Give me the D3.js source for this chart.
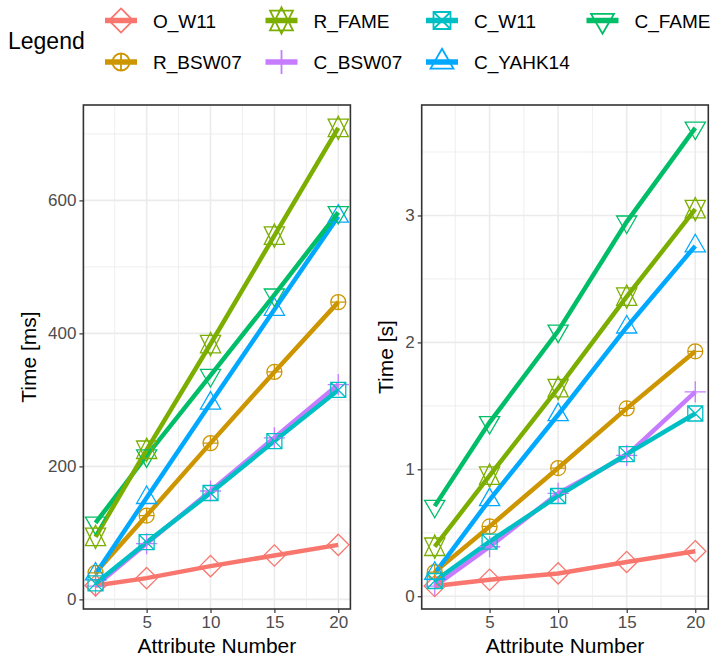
<!DOCTYPE html>
<html>
<head>
<meta charset="utf-8">
<script src="https://cdn.jsdelivr.net/npm/d3@7"></script>
<style>
  body { margin: 0; background: #fff; }
  text { font-family: "Liberation Sans", Arial, Helvetica, sans-serif; }
</style>
</head>
<body>
<svg id="svg" width="724" height="659"></svg>
<script>
// x values (number of attributes)
var attributes = [1, 5, 10, 15, 20];

// legend order
var seriesNames = ["O_W11", "R_BSW07", "R_FAME", "C_BSW07", "C_W11", "C_YAHK14", "C_FAME"];
var seriesColors = ["#F8766D", "#CD9600", "#7CAE00", "#C77CFF", "#00BFC4", "#00A9FF", "#00BE67"];
var seriesShapes = ["diamond", "circlePlus", "star", "plus", "squareCross", "triangleUp", "triangleDown"];
// order the lines are painted in
var lineOrder = ["C_BSW07", "O_W11", "R_BSW07", "C_YAHK14", "C_FAME", "R_FAME", "C_W11"];

// left panel, time in ms
var ms_O_W11    = [21, 32, 50, 66, 82];
var ms_R_BSW07  = [40, 126, 235, 342, 447];
var ms_R_FAME   = [94, 225, 384, 547, 709];
var ms_C_BSW07  = [20, 84, 163, 243, 323];
var ms_C_W11    = [24, 86, 160, 238, 315];
var ms_C_YAHK14 = [38, 153, 295, 436, 576];
var ms_C_FAME   = [115, 216, 337, 458, 582];

// right panel, time in s
var s_O_W11    = [0.08, 0.13, 0.18, 0.27, 0.355];
var s_R_BSW07  = [0.19, 0.55, 1.01, 1.48, 1.93];
var s_R_FAME   = [0.39, 0.95, 1.64, 2.36, 3.05];
var s_C_BSW07  = [0.08, 0.39, 0.81, 1.11, 1.61];
var s_C_W11    = [0.12, 0.43, 0.79, 1.12, 1.44];
var s_C_YAHK14 = [0.18, 0.76, 1.43, 2.12, 2.76];
var s_C_FAME   = [0.71, 1.37, 2.09, 2.95, 3.69];

var xTicks = [5, 10, 15, 20];
var xMinor = [2.5, 7.5, 12.5, 17.5];
var msTicks = [0, 200, 400, 600];
var msMinor = [100, 300, 500, 700];
var sTicks = [0, 1, 2, 3];
var sMinor = [0.5, 1.5, 2.5, 3.5];

var xTitle = "Attribute Number";
var legendTitle = "Legend";

var svg = d3.select("#svg");

function makeSeries(values){
    return seriesNames.map(function(name, i){
        return {
            name: name,
            color: seriesColors[i],
            shape: seriesShapes[i],
            points: attributes.map(function(a, j){ return {x: a, y: values[i][j]}; })
        };
    });
}

var msSeries = makeSeries([ms_O_W11, ms_R_BSW07, ms_R_FAME, ms_C_BSW07, ms_C_W11, ms_C_YAHK14, ms_C_FAME]);
var sSeries = makeSeries([s_O_W11, s_R_BSW07, s_R_FAME, s_C_BSW07, s_C_W11, s_C_YAHK14, s_C_FAME]);

// R style point shapes, r is the base radius in px
function shapePath(shape, r){
    var p = d3.path();
    var a, b, c;
    switch (shape) {
      case "diamond":
        a = Math.SQRT2 * r;
        p.moveTo(0, -a); p.lineTo(a, 0); p.lineTo(0, a); p.lineTo(-a, 0); p.closePath();
        break;
      case "circlePlus":
        p.moveTo(r, 0); p.arc(0, 0, r, 0, 2 * Math.PI);
        p.moveTo(-r, 0); p.lineTo(r, 0);
        p.moveTo(0, -r); p.lineTo(0, r);
        break;
      case "star":
        a = 1.5551 * r; b = 1.1664 * r; c = 1.3468 * r;
        p.moveTo(0, a); p.lineTo(c, -b); p.lineTo(-c, -b); p.closePath();
        p.moveTo(0, -a); p.lineTo(c, b); p.lineTo(-c, b); p.closePath();
        break;
      case "plus":
        a = Math.SQRT2 * r;
        p.moveTo(-a, 0); p.lineTo(a, 0);
        p.moveTo(0, -a); p.lineTo(0, a);
        break;
      case "squareCross":
        p.rect(-r, -r, 2 * r, 2 * r);
        p.moveTo(-r, -r); p.lineTo(r, r);
        p.moveTo(-r, r); p.lineTo(r, -r);
        break;
      case "triangleUp":
        a = 1.5551 * r; b = 0.7776 * r; c = 1.3468 * r;
        p.moveTo(0, -a); p.lineTo(c, b); p.lineTo(-c, b); p.closePath();
        break;
      case "triangleDown":
        a = 1.5551 * r; b = 0.7776 * r; c = 1.3468 * r;
        p.moveTo(0, a); p.lineTo(c, -b); p.lineTo(-c, -b); p.closePath();
        break;
    }
    return p.toString();
}

function expand(ext){
    var pad = (ext[1] - ext[0]) * 0.05;
    return [ext[0] - pad, ext[1] + pad];
}

function drawPanel(series, left, right, yTicks, yMinor, yTitle, yTitleX){
    var top = 105, bottom = 609;
    var allY = [];
    series.forEach(function(s){ s.points.forEach(function(p){ allY.push(p.y); }); });

    var x = d3.scaleLinear().domain(expand(d3.extent(attributes))).range([left, right]);
    var y = d3.scaleLinear().domain(expand(d3.extent(allY))).range([bottom, top]);

    var g = svg.append("g");

    g.append("rect")
        .attr("x", left).attr("y", top)
        .attr("width", right - left).attr("height", bottom - top)
        .attr("fill", "#fff");

    // minor grid
    g.selectAll(".xminor").data(xMinor).enter().append("line")
        .attr("x1", function(d){ return x(d); }).attr("x2", function(d){ return x(d); })
        .attr("y1", top).attr("y2", bottom)
        .attr("stroke", "#EBEBEB").attr("stroke-width", 0.8);
    g.selectAll(".yminor").data(yMinor).enter().append("line")
        .attr("y1", function(d){ return y(d); }).attr("y2", function(d){ return y(d); })
        .attr("x1", left).attr("x2", right)
        .attr("stroke", "#EBEBEB").attr("stroke-width", 0.8);
    // major grid
    g.selectAll(".xmajor").data(xTicks).enter().append("line")
        .attr("x1", function(d){ return x(d); }).attr("x2", function(d){ return x(d); })
        .attr("y1", top).attr("y2", bottom)
        .attr("stroke", "#EBEBEB").attr("stroke-width", 1.6);
    g.selectAll(".ymajor").data(yTicks).enter().append("line")
        .attr("y1", function(d){ return y(d); }).attr("y2", function(d){ return y(d); })
        .attr("x1", left).attr("x2", right)
        .attr("stroke", "#EBEBEB").attr("stroke-width", 1.6);

    var line = d3.line()
        .x(function(d){ return x(d.x); })
        .y(function(d){ return y(d.y); });

    var byName = {};
    series.forEach(function(s){ byName[s.name] = s; });

    lineOrder.forEach(function(name){
        var s = byName[name];
        g.append("path").datum(s.points)
            .attr("fill", "none")
            .attr("stroke", s.color)
            .attr("stroke-width", 4.5)
            .attr("stroke-linecap", "butt")
            .attr("d", line);
    });

    lineOrder.forEach(function(name){
        var s = byName[name];
        g.selectAll(null).data(s.points).enter().append("path")
            .attr("transform", function(d){ return "translate(" + x(d.x) + "," + y(d.y) + ")"; })
            .attr("d", shapePath(s.shape, 7.5))
            .attr("fill", "none")
            .attr("stroke", s.color)
            .attr("stroke-width", 1.3);
    });

    // axes
    var xAxis = d3.axisBottom(x).tickValues(xTicks).tickSize(4).tickPadding(3)
        .tickFormat(d3.format("d"));
    var yAxis = d3.axisLeft(y).tickValues(yTicks).tickSize(4).tickPadding(3)
        .tickFormat(d3.format("d"));

    var xa = g.append("g")
        .attr("transform", "translate(0," + bottom + ")")
        .call(xAxis);
    var ya = g.append("g")
        .attr("transform", "translate(" + left + ",0)")
        .call(yAxis);
    [xa, ya].forEach(function(a){
        a.select(".domain").remove();
        a.selectAll(".tick line").attr("stroke", "#333333").attr("stroke-width", 1.2);
        a.selectAll(".tick text")
            .attr("fill", "#4D4D4D")
            .attr("font-size", 17)
            .attr("font-family", "Liberation Sans, Arial, sans-serif");
    });

    g.append("rect")
        .attr("x", left).attr("y", top)
        .attr("width", right - left).attr("height", bottom - top)
        .attr("fill", "none")
        .attr("stroke", "#333333")
        .attr("stroke-width", 1.6);

    g.append("text")
        .attr("text-anchor", "middle")
        .attr("font-size", 21)
        .attr("fill", "#000")
        .attr("x", (left + right) / 2)
        .attr("y", 653)
        .text(xTitle);

    g.append("text")
        .attr("text-anchor", "middle")
        .attr("font-size", 21)
        .attr("fill", "#000")
        .attr("transform", "translate(" + yTitleX + "," + ((top + bottom) / 2) + ") rotate(-90)")
        .text(yTitle);
}

drawPanel(msSeries, 83.4, 350.4, msTicks, msMinor, "Time [ms]", 36);
drawPanel(sSeries, 421.7, 708.3, sTicks, sMinor, "Time [s]", 392.5);

// legend, two rows filled column by column
var legend = svg.append("g");
legend.append("text")
    .attr("x", 8)
    .attr("y", 49)
    .attr("font-size", 23)
    .attr("fill", "#000")
    .text(legendTitle);

seriesNames.forEach(function(name, i){
    var col = Math.floor(i / 2), row = i % 2;
    var cx = 121 + col * 160.5;
    var cy = 20.5 + row * 41.5;
    var k = legend.append("g").attr("transform", "translate(" + cx + "," + cy + ")");
    k.append("line")
        .attr("x1", -16).attr("x2", 16)
        .attr("stroke", seriesColors[i])
        .attr("stroke-width", 5.5);
    k.append("path")
        .attr("d", shapePath(seriesShapes[i], 8.5))
        .attr("fill", "none")
        .attr("stroke", seriesColors[i])
        .attr("stroke-width", 1.8);
    k.append("text")
        .attr("x", 32)
        .attr("y", 7)
        .attr("font-size", 19)
        .attr("fill", "#000")
        .text(name);
});
</script>
</body>
</html>
